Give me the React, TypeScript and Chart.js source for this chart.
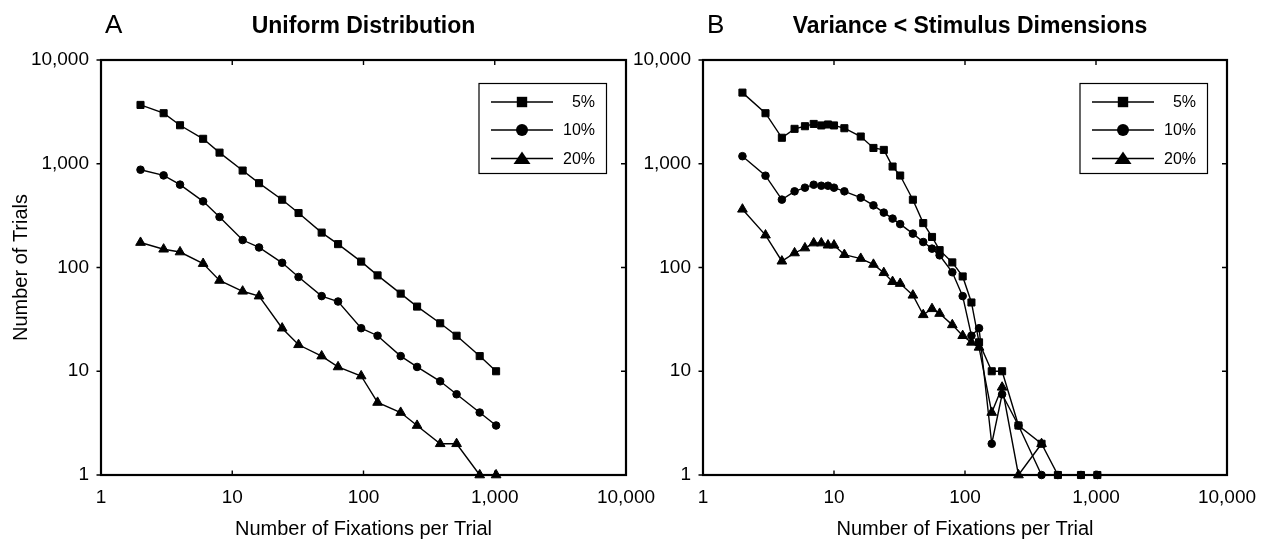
import React, { useEffect, useRef } from "react";
import { Chart, registerables } from "chart.js";

Chart.register(...registerables);

const W = 1269;
const H = 541;
const FONT = "'Liberation Sans', Arial, Helvetica, sans-serif";

// Tick values shared by both panels
const xTickValues = [1, 10, 100, 1000, 10000];
const yTickValues = [1, 10, 100, 1000, 10000];

const seriesLabels = ["5%", "10%", "20%"];
const seriesMarkers = ["rect", "circle", "triangle"];

// Panel A – Uniform Distribution
const fixationsA = [2, 3, 4, 6, 8, 12, 16, 24, 32, 48, 64, 96, 128, 192, 256, 384, 512, 768, 1024];
const uniform5 = [3690, 3070, 2350, 1740, 1280, 860, 650, 450, 335, 217, 168, 114, 84, 56, 42, 29, 22, 14, 10];
const uniform10 = [876, 772, 629, 434, 307, 184, 156, 111, 81, 53, 47, 26, 22, 14, 11, 8, 6, 4, 3];
const uniform20 = [174, 150, 141, 109, 75, 59, 53, 26, 18, 14, 11, 9, 5, 4, 3, 2, 2, 1, 1];

// Panel B – Variance < Stimulus Dimensions
const fixationsB = [2, 3, 4, 5, 6, 7, 8, 9, 10, 12, 16, 20, 24, 28, 32, 40, 48, 56, 64, 80, 96, 112, 128, 160, 192, 256, 384, 512, 768, 1024];
const variance5 = [4850, 3070, 1780, 2170, 2300, 2420, 2340, 2390, 2340, 2200, 1830, 1420, 1360, 940, 770, 450, 268, 197, 147, 112, 82, 46, 19, 10, 10, 3, 2, 1, 1, 1];
const variance10 = [1183, 767, 451, 542, 588, 628, 614, 614, 588, 542, 471, 397, 338, 296, 262, 212, 176, 152, 131, 90, 53, 22, 26, 2, 6, 3, 1, 1, 1, 1];
const variance20 = [364, 205, 115, 138, 154, 172, 172, 164, 164, 133, 122, 107, 89, 73, 70, 54, 35, 40, 36, 28, 22, 19, 17, 4, 7, 1, 2, null, null, null];

const markerRadius: Record<string, number> = { rect: 5.0, circle: 3.8, triangle: 5.6 };

function drawLegendMarker(ctx: CanvasRenderingContext2D, style: string, x: number, y: number) {
  ctx.beginPath();
  if (style === "rect") {
    const s = 5.2;
    ctx.rect(x - s, y - s, 2 * s, 2 * s);
  } else if (style === "circle") {
    ctx.arc(x, y, 6, 0, Math.PI * 2);
  } else {
    ctx.moveTo(x, y - 7);
    ctx.lineTo(x + 8.5, y + 5.5);
    ctx.lineTo(x - 8.5, y + 5.5);
    ctx.closePath();
  }
  ctx.fill();
}

const framePlugin = {
  id: "frame",
  beforeDatasetsDraw(chart: any) {
    const { ctx, chartArea, scales } = chart;
    const { left, right, top, bottom } = chartArea;
    ctx.save();
    ctx.strokeStyle = "#000";
    ctx.lineWidth = 1.4;
    ctx.beginPath();
    for (const v of xTickValues) {
      const px = scales.x.getPixelForValue(v);
      ctx.moveTo(px, bottom);
      ctx.lineTo(px, bottom - 4.5);
      ctx.moveTo(px, top);
      ctx.lineTo(px, top + 5);
    }
    for (const v of yTickValues) {
      const py = scales.y.getPixelForValue(v);
      ctx.moveTo(left - 4.5, py);
      ctx.lineTo(left, py);
      ctx.moveTo(right - 5, py);
      ctx.lineTo(right, py);
    }
    ctx.stroke();
    ctx.lineWidth = 2.2;
    ctx.strokeRect(left, top, right - left, bottom - top);
    ctx.restore();
  },
  afterDraw(chart: any, _args: any, opts: any) {
    const { ctx, chartArea } = chart;
    const { left, right, top } = chartArea;
    ctx.save();
    ctx.fillStyle = "#000";
    ctx.textBaseline = "alphabetic";
    // panel letter
    ctx.font = `26px ${FONT}`;
    ctx.textAlign = "left";
    ctx.fillText(opts.letter, left + 4, 33);
    // panel title
    ctx.font = `bold 23px ${FONT}`;
    ctx.textAlign = "center";
    ctx.fillText(opts.title, (left + right) / 2 + (opts.titleShift || 0), 33);

    // legend box
    const bx1 = right - 19.5;
    const bx0 = bx1 - 127.5;
    const by0 = top + 23.5;
    const by1 = by0 + 90;
    ctx.lineWidth = 1.2;
    ctx.strokeStyle = "#000";
    ctx.strokeRect(bx0, by0, bx1 - bx0, by1 - by0);
    const rows = [18.5, 46.5, 75];
    chart.data.datasets.forEach((ds: any, i: number) => {
      const ry = by0 + rows[i];
      ctx.lineWidth = 1.4;
      ctx.beginPath();
      ctx.moveTo(bx0 + 12, ry);
      ctx.lineTo(bx0 + 74, ry);
      ctx.stroke();
      drawLegendMarker(ctx, ds.pointStyle, bx0 + 43, ry);
      ctx.font = `16px ${FONT}`;
      ctx.textAlign = "right";
      ctx.textBaseline = "middle";
      ctx.fillText(ds.label, bx1 - 11.5, ry + 1);
    });
    ctx.restore();
  },
};

function buildDatasets(xs: number[], seriesList: (number | null)[][]) {
  return seriesList.map((vals, i) => ({
    label: seriesLabels[i],
    data: xs.map((x, j) => ({ x, y: vals[j] })),
    borderColor: "#000",
    backgroundColor: "#000",
    borderWidth: 1.4,
    pointStyle: seriesMarkers[i],
    pointRadius: markerRadius[seriesMarkers[i]],
    pointBorderWidth: 1,
    pointBackgroundColor: "#000",
    pointBorderColor: "#000",
    tension: 0,
    clip: false,
    spanGaps: false,
  }));
}

function makeConfig(panel: {
  xs: number[];
  series: (number | null)[][];
  letter: string;
  title: string;
  titleShift: number;
  padLeft: number;
  padRight: number;
  yTitle: string | null;
}): any {
  return {
    type: "line",
    data: { datasets: buildDatasets(panel.xs, panel.series) },
    plugins: [framePlugin],
    options: {
      animation: false,
      responsive: false,
      devicePixelRatio: 1,
      events: [],
      layout: { padding: { left: panel.padLeft, right: panel.padRight, top: 60, bottom: 0 } },
      plugins: {
        legend: { display: false },
        title: { display: false },
        tooltip: { enabled: false },
        frame: { letter: panel.letter, title: panel.title, titleShift: panel.titleShift },
      },
      scales: {
        x: {
          type: "logarithmic",
          position: "bottom",
          min: 1,
          max: 10000,
          afterBuildTicks: (s: any) => {
            s.ticks = xTickValues.map((v) => ({ value: v }));
          },
          afterFit: (s: any) => {
            s.height = 66;
          },
          grid: { display: false, drawTicks: false },
          border: { display: false },
          ticks: {
            autoSkip: false,
            maxRotation: 0,
            minRotation: 0,
            padding: 11,
            color: "#000",
            font: { family: FONT, size: 19 },
            callback: (v: any) => Number(v).toLocaleString("en-US"),
          },
          title: {
            display: true,
            text: "Number of Fixations per Trial",
            color: "#000",
            font: { family: FONT, size: 20 },
            padding: { top: 0, bottom: 0 },
          },
        },
        y: {
          type: "logarithmic",
          position: "left",
          min: 1,
          max: 10000,
          afterBuildTicks: (s: any) => {
            s.ticks = yTickValues.map((v) => ({ value: v }));
          },
          afterFit: (s: any) => {
            s.width = 101;
          },
          grid: { display: false, drawTicks: false },
          border: { display: false },
          ticks: {
            autoSkip: false,
            padding: 12,
            color: "#000",
            font: { family: FONT, size: 19 },
            callback: (v: any) => Number(v).toLocaleString("en-US"),
          },
          title: {
            display: !!panel.yTitle,
            text: panel.yTitle || "",
            color: "#000",
            font: { family: FONT, size: 20 },
            padding: { top: 9, bottom: 0 },
          },
        },
      },
    },
  };
}

function Panel({ config }: { config: any }) {
  const ref = useRef<HTMLCanvasElement | null>(null);
  useEffect(() => {
    if (!ref.current) return;
    const chart = new Chart(ref.current, config);
    return () => chart.destroy();
  }, [config]);
  return (
    <canvas
      ref={ref}
      width={W}
      height={H}
      style={{ position: "absolute", left: 0, top: 0, width: W, height: H }}
    />
  );
}

const configA = makeConfig({
  xs: fixationsA,
  series: [uniform5, uniform10, uniform20],
  letter: "A",
  title: "Uniform Distribution",
  titleShift: 0,
  padLeft: 0,
  padRight: W - 626,
  yTitle: "Number of Trials",
});

const configB = makeConfig({
  xs: fixationsB,
  series: [variance5, variance10, variance20],
  letter: "B",
  title: "Variance < Stimulus Dimensions",
  titleShift: 5,
  padLeft: 602,
  padRight: W - 1227,
  yTitle: null,
});

export default function App() {
  return (
    <div style={{ position: "absolute", left: 0, top: 0, width: W, height: H, background: "#fff", overflow: "hidden" }}>
      <Panel config={configA} />
      <Panel config={configB} />
    </div>
  );
}
